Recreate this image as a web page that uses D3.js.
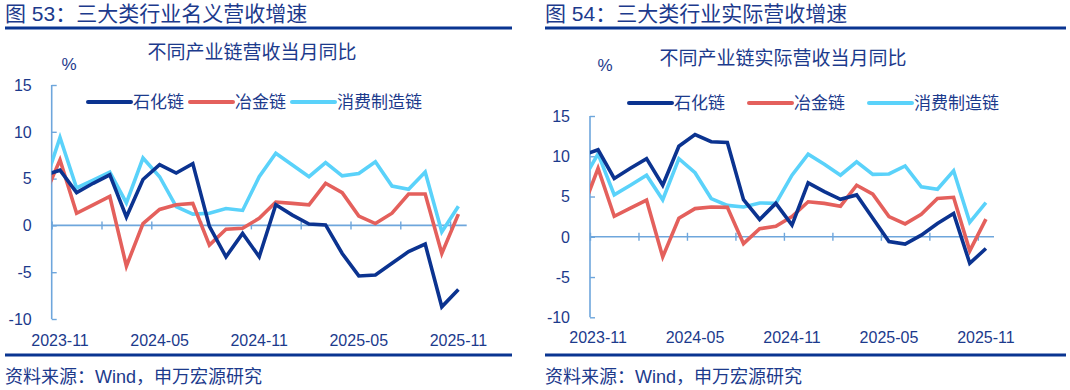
<!DOCTYPE html>
<html><head><meta charset="utf-8">
<script src="https://cdn.jsdelivr.net/npm/d3@7"></script>
<style>
html,body{margin:0;padding:0;background:#fff;}
svg{display:block;font-family:"Liberation Sans","Noto Sans CJK SC",sans-serif;}
</style></head>
<body><svg id="c" width="1070" height="390"></svg>
<script>
// months (first month lies just left of the visible axis range)
const months = ["2023-10","2023-11","2023-12","2024-01","2024-02","2024-03","2024-04","2024-05","2024-06","2024-07","2024-08","2024-09","2024-10","2024-11","2024-12","2025-01","2025-02","2025-03","2025-04","2025-05","2025-06","2025-07","2025-08","2025-09","2025-10","2025-11"];
const xLabels = ["2023-11","2024-05","2024-11","2025-05","2025-11"];
const yTicks = [-10,-5,0,5,10,15];
const seriesNames = ["石化链","冶金链","消费制造链"];

// Figure 53: nominal revenue growth
const nomPetro  = [5.3,5.9,3.5,4.5,5.4,0.9,4.9,6.5,5.6,6.6,-0.1,-3.35,-0.85,-3.35,2.2,1.1,0.15,0.05,-3.0,-5.4,-5.3,-4.05,-2.8,-2.0,-8.7,-6.85];
const nomMetal  = [2.9,7.0,1.3,2.2,3.1,-4.35,0.2,1.7,2.2,2.35,-2.1,-0.4,-0.3,0.75,2.5,2.35,2.2,4.5,3.5,1.0,0.2,1.3,3.35,3.35,-3.0,1.2];
const nomConsum = [4.0,9.4,4.0,4.85,5.7,2.4,7.2,5.2,2.0,1.2,1.3,1.8,1.6,5.2,7.7,6.45,5.2,6.7,5.3,5.55,6.8,4.2,3.85,5.7,-0.7,2.05];

// Figure 54: real revenue growth
const realPetro  = [10.1,10.8,7.25,8.5,9.7,6.4,11.25,12.7,11.8,11.7,4.6,2.15,4.15,1.45,6.7,5.6,4.65,5.2,2.3,-0.6,-0.9,0.2,1.65,2.9,-3.3,-1.45];
const realMetal  = [3.2,8.5,2.55,3.55,4.55,-2.5,2.3,3.5,3.7,3.65,-0.85,1.0,1.3,2.5,4.35,4.15,3.8,6.4,5.3,2.5,1.6,2.8,4.75,4.9,-1.75,2.2];
const realConsum = [6.8,10.3,5.2,6.4,7.65,4.6,9.7,7.95,4.75,3.9,3.7,4.2,4.15,7.65,10.25,9.0,7.65,9.3,7.75,7.8,8.8,6.2,5.9,8.2,1.8,4.25];

const colors = ["#0b3390","#e4605c","#5ad2fa"];
const navy = "#1c3a8c";
const axisCol = "#6ea6dc";

const svg = d3.select("#c");

function panel(cfg){
  const g = svg.append("g");
  // title
  g.append("text").attr("x",cfg.left).attr("y",21).attr("font-size",21).attr("fill",navy).text(cfg.title);
  g.append("line").attr("x1",cfg.left).attr("x2",cfg.ruleEnd).attr("y1",28).attr("y2",28).attr("stroke","#0a3591").attr("stroke-width",3.2);
  g.append("line").attr("x1",cfg.left).attr("x2",cfg.ruleEnd).attr("y1",355).attr("y2",355).attr("stroke","#0a3591").attr("stroke-width",3.2);
  g.append("text").attr("x",cfg.left).attr("y",383).attr("font-size",18).attr("fill",navy).text("资料来源：Wind，申万宏源研究");
  g.append("text").attr("x",cfg.subX).attr("y",cfg.subY).attr("text-anchor","middle").attr("font-size",19).attr("fill",navy).text(cfg.sub);
  g.append("text").attr("x",cfg.pctX).attr("y",cfg.pctY).attr("text-anchor","middle").attr("font-size",17).attr("fill",navy).text("%");

  const x = d3.scaleLinear().domain([0.5, months.length-0.5]).range([cfg.x0, cfg.x1]);
  const y = d3.scaleLinear().domain([-10,15]).range([cfg.yBot, cfg.yTop]);

  // y axis
  const ya = g.append("g").attr("transform",`translate(${cfg.x0},0)`)
    .call(d3.axisRight(y).tickValues(yTicks).tickSize(5).tickFormat(""));
  ya.select(".domain").attr("stroke",axisCol).attr("stroke-width",1.6).attr("d",`M0,${cfg.yTop}V${cfg.yBot}`);
  ya.selectAll(".tick line").attr("stroke",axisCol).attr("stroke-width",1.4);
  g.selectAll(".ylab").data(yTicks).join("text").attr("class","ylab")
    .attr("x",cfg.x0-20).attr("y",d=>y(d)).attr("dy","0.36em").attr("text-anchor","end")
    .attr("font-size",16).attr("fill",navy).text(d=>d);

  // x axis at zero
  const tickIdx = d3.range(0.5, months.length-0.5, 3);
  const xa = g.append("g").attr("transform",`translate(0,${y(0)})`)
    .call(d3.axisBottom(x).tickValues(tickIdx).tickSize(4).tickFormat(""));
  xa.select(".domain").attr("stroke",axisCol).attr("stroke-width",1.6).attr("d",`M${cfg.x0},0H${cfg.x1}`);
  xa.selectAll(".tick line").attr("stroke",axisCol).attr("stroke-width",1.4).attr("y1",-4);
  g.selectAll(".xlab").data(xLabels).join("text").attr("class","xlab")
    .attr("x",d=>x(months.indexOf(d))).attr("y",cfg.xLabY).attr("dy","0.36em").attr("text-anchor","middle")
    .attr("font-size",16).attr("fill",navy).text(d=>d);

  // clip
  const cid = "clip"+cfg.id;
  svg.append("clipPath").attr("id",cid).append("rect")
    .attr("x",cfg.x0).attr("y",0).attr("width",cfg.x1-cfg.x0).attr("height",390);
  const line = d3.line().x((d,i)=>x(i)).y(d=>y(d));
  const lg = g.append("g").attr("clip-path",`url(#${cid})`);
  [2,1,0].forEach(k=>{
    lg.append("path").attr("d",line(cfg.data[k])).attr("fill","none")
      .attr("stroke",colors[k]).attr("stroke-width",3.6).attr("stroke-linejoin","miter");
  });

  // legend
  seriesNames.forEach((n,k)=>{
    const lx = cfg.legX[k];
    g.append("line").attr("x1",lx).attr("x2",lx+43).attr("y1",cfg.legY).attr("y2",cfg.legY)
      .attr("stroke",colors[k]).attr("stroke-width",4).attr("stroke-linecap","round");
    g.append("text").attr("x",lx+45).attr("y",cfg.legY).attr("dy","0.36em").attr("font-size",17)
      .attr("fill",navy).text(n);
  });
}

panel({id:"a", left:5, ruleEnd:512, title:"图 53：三大类行业名义营收增速",
  sub:"不同产业链营收当月同比", subX:252, subY:59, pctX:69, pctY:70,
  x0:51.7, x1:466.7, yTop:85, yBot:319, xLabY:340,
  legX:[88,190,292], legY:102,
  data:[nomPetro, nomMetal, nomConsum]});

panel({id:"b", left:545, ruleEnd:1066, title:"图 54：三大类行业实际营收增速",
  sub:"不同产业链实际营收当月同比", subX:783, subY:65, pctX:605, pctY:71,
  x0:590, x1:994, yTop:116, yBot:317.3, xLabY:337,
  legX:[629,749,869], legY:103,
  data:[realPetro, realMetal, realConsum]});
</script></body></html>
